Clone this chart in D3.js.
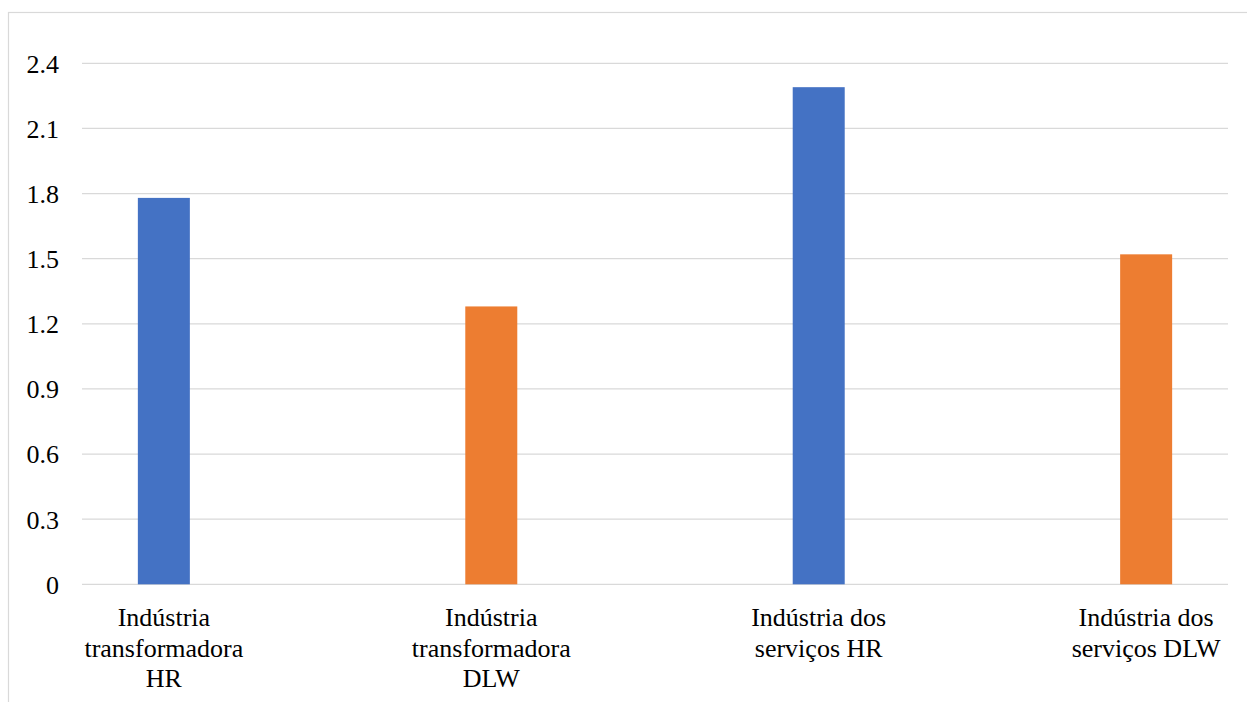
<!DOCTYPE html>
<html>
<head>
<meta charset="utf-8">
<script src="https://cdn.jsdelivr.net/npm/d3@7"></script>
<style>
  html, body { margin: 0; padding: 0; background: #fff; }
  svg { display: block; }
</style>
</head>
<body>
<svg id="chart" width="1247" height="702"></svg>
<script>
// Categories (x-axis labels, split into lines)
const categories = [
  "Indústria transformadora HR",
  "Indústria transformadora DLW",
  "Indústria dos serviços HR",
  "Indústria dos serviços DLW"
];
const categoryLines = [
  ["Indústria", "transformadora", "HR"],
  ["Indústria", "transformadora", "DLW"],
  ["Indústria dos", "serviços HR"],
  ["Indústria dos", "serviços DLW"]
];
// One value per category
const values = [1.78, 1.28, 2.29, 1.52];
// Series each bar belongs to
const series = ["HR", "DLW", "HR", "DLW"];
const seriesColors = { HR: "#4472C4", DLW: "#ED7D31" };
// Y-axis ticks
const yTicks = [0, 0.3, 0.6, 0.9, 1.2, 1.5, 1.8, 2.1, 2.4];

const FONT = "'Liberation Serif', 'Times New Roman', Tinos, 'DejaVu Serif', serif";

const svg = d3.select("#chart");

// Outer chart frame
svg.append("rect")
  .attr("x", 8.5).attr("y", 12.5)
  .attr("width", 1260).attr("height", 720)
  .attr("fill", "none")
  .attr("stroke", "#d9d9d9")
  .attr("stroke-width", 1.2);

const plot = { left: 82, right: 1228, top: 63.3, bottom: 584.3 };

const x = d3.scalePoint()
  .domain(categories)
  .range([plot.left, plot.right])
  .padding(0.25);

const y = d3.scaleLinear()
  .domain([0, 2.4])
  .range([plot.bottom, plot.top]);

// Horizontal gridlines
svg.append("g")
  .selectAll("line")
  .data(yTicks)
  .join("line")
  .attr("x1", plot.left).attr("x2", plot.right)
  .attr("y1", d => y(d)).attr("y2", d => y(d))
  .attr("stroke", "#d9d9d9")
  .attr("stroke-width", 1.3);

// Y-axis tick labels
const yAxis = d3.axisLeft(y)
  .tickValues(yTicks)
  .tickSize(0)
  .tickPadding(0)
  .tickFormat(d => d === 0 ? "0" : d3.format(".1f")(d));

const gy = svg.append("g")
  .attr("transform", `translate(${plot.left - 23},0)`)
  .call(yAxis);
gy.select(".domain").remove();
gy.style("font-family", FONT);
gy.selectAll("text")
  .style("font-family", FONT)
  .style("font-size", "26px")
  .attr("fill", "#000")
  .attr("dy", "0.34em");

// Bars
const barWidth = 52;
svg.append("g")
  .selectAll("rect")
  .data(categories)
  .join("rect")
  .attr("x", (d) => x(d) - barWidth / 2)
  .attr("width", barWidth)
  .attr("y", (d, i) => y(values[i]))
  .attr("height", (d, i) => y(0) - y(values[i]))
  .attr("fill", (d, i) => seriesColors[series[i]]);

// X-axis category labels
const labels = svg.append("g")
  .selectAll("text")
  .data(categories)
  .join("text")
  .attr("x", d => x(d))
  .attr("y", 626)
  .attr("text-anchor", "middle")
  .attr("fill", "#000")
  .style("font-family", FONT)
  .style("font-size", "26px");

labels.each(function (d, i) {
  d3.select(this)
    .selectAll("tspan")
    .data(categoryLines[i])
    .join("tspan")
    .attr("x", x(d))
    .attr("dy", (t, j) => j === 0 ? 0 : 30.5)
    .text(t => t);
});
</script>
</body>
</html>
